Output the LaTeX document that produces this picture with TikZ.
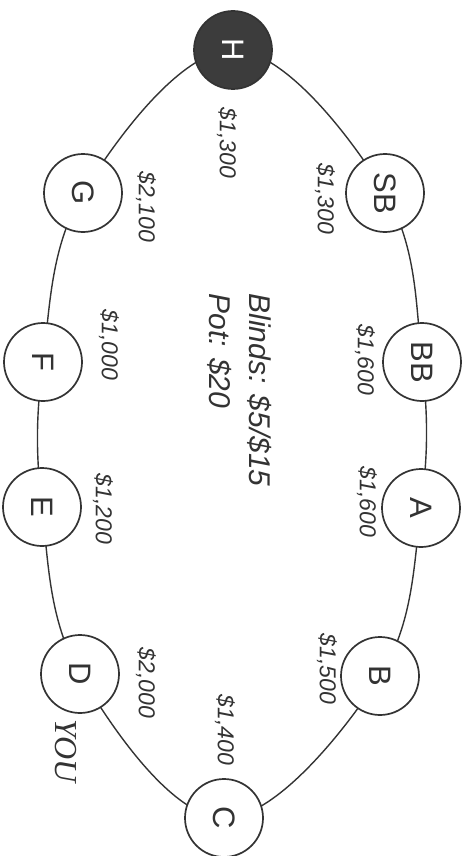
\documentclass[tikz,border=0pt]{standalone}
\usepackage{fontspec}
\setmainfont{Liberation Sans}
\newfontfamily\youfont{Liberation Serif}
\usetikzlibrary{backgrounds}
\definecolor{tableink}{HTML}{333333}
\definecolor{buttonfill}{HTML}{3C3C3C}

\begin{document}
\begin{tikzpicture}[x=1pt,y=-1pt,
 seat/.style={circle,draw=tableink,line width=1.7pt,fill=white,minimum size=78pt,inner sep=0pt,text=tableink,font=\fontsize{31}{31}\selectfont,rotate=-90},
 button/.style={seat,fill=buttonfill,text=white},
 stack/.style={rotate=-90,text=tableink,font=\fontsize{23}{23}\selectfont\itshape},
 rail/.style={draw=tableink,line width=1.4pt}]
\useasboundingbox (0,0) rectangle (465,856);
% seats round the table
\node[button] (h) at (233,50) {H};
\node[seat] (sb) at (385,193) {SB};
\node[seat] (bb) at (422,362) {BB};
\node[seat] (a) at (421,508) {A};
\node[seat] (b) at (380,676) {B};
\node[seat] (c) at (224,818) {C};
\node[seat] (d) at (80,674) {D};
\node[seat] (e) at (42,507) {E};
\node[seat] (f) at (43,362) {F};
\node[seat] (g) at (83,193) {G};
\begin{pgfonlayer}{background}
\draw[rail] plot[smooth cycle,tension=0.62] coordinates {(h) (sb) (bb) (a) (b) (c) (d) (e) (f) (g)};
\end{pgfonlayer}
% chip stacks
\node[stack] (hstack) at (227,143) {\$1,300};
\node[stack] (sbstack) at (325,199) {\$1,300};
\node[stack] (bbstack) at (365,360) {\$1,600};
\node[stack] (astack) at (367,502) {\$1,600};
\node[stack] (bstack) at (327,669) {\$1,500};
\node[stack] (cstack) at (225,730) {\$1,400};
\node[stack] (dstack) at (146,683) {\$2,000};
\node[stack] (estack) at (103,509) {\$1,200};
\node[stack] (fstack) at (109,345) {\$1,000};
\node[stack] (gstack) at (146,207) {\$2,100};
\node[rotate=-90,text=tableink,font=\youfont\fontsize{32}{32}\selectfont\itshape] (you) at (66,751) {YOU};
\node[rotate=-90,text=tableink,align=left,font=\fontsize{30}{40}\selectfont\itshape] (pot) at (240,390) {Blinds: \$5/\$15\\Pot: \$20};
\end{tikzpicture}
\end{document}
